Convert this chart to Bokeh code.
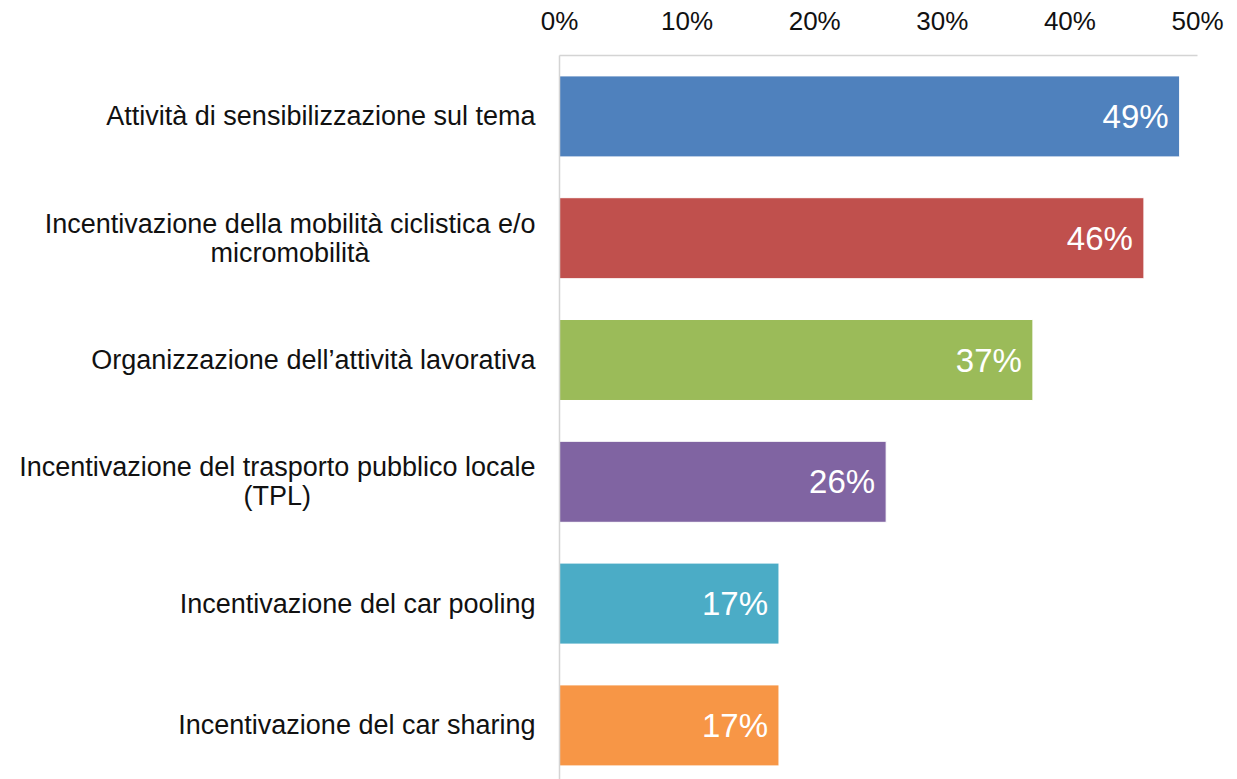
from bokeh.plotting import figure
from bokeh.layouts import row
from bokeh.models import Range1d, FixedTicker, NumeralTickFormatter, ColumnDataSource
from bokeh.core.properties import value
from bokeh.embed import file_html
from bokeh.resources import INLINE

categories = [
    "Attività di sensibilizzazione sul tema",
    "Incentivazione della mobilità ciclistica e/o\nmicromobilità",
    "Organizzazione dell’attività lavorativa",
    "Incentivazione del trasporto pubblico locale\n(TPL)",
    "Incentivazione del car pooling",
    "Incentivazione del car sharing",
]
values = [0.486, 0.458, 0.371, 0.256, 0.172, 0.172]
colors = ["#4F81BD", "#C0504D", "#9BBB59", "#8064A2", "#4BACC6", "#F79646"]
x_ticks = [0, 0.1, 0.2, 0.3, 0.4, 0.5]

n = len(categories)
ypos = [n - 1 - i for i in range(n)]
labels = [f"{round(v * 100)}%" for v in values]

FONT = "Liberation Sans"
LEFT_W = 537
GAP = 22
TOP = 55
HEIGHT = 779
BAND = 121.8
span = (HEIGHT - TOP) / BAND
yr = Range1d(n - 0.5 - span, n - 0.5)

# left panel: category labels
lsrc = ColumnDataSource(dict(y=ypos, t=categories, x=[535] * n))
left = figure(width=LEFT_W, height=HEIGHT, output_backend="svg", toolbar_location=None,
              x_range=Range1d(0, LEFT_W), y_range=yr, x_axis_type=None, y_axis_type=None,
              min_border_left=0, min_border_right=0, min_border_top=TOP, min_border_bottom=0)
left.outline_line_color = None
left.grid.visible = False
left.text(x="x", y="y", text="t", anchor="center_right", text_align="center",
          text_font=value(FONT), text_font_size="27px", text_color="#111111",
          text_line_height=0.97, source=lsrc)

# right panel: bars
src = ColumnDataSource(dict(y=ypos, v=values, c=colors, lab=labels))
p = figure(width=1229 - LEFT_W, height=HEIGHT, output_backend="svg", toolbar_location=None,
           x_axis_location="above", x_range=Range1d(0, 0.5), y_range=yr,
           min_border_left=GAP, min_border_right=32, min_border_top=TOP, min_border_bottom=0)
p.outline_line_color = None
p.grid.visible = False
p.background_fill_color = "white"
p.border_fill_color = "white"

p.hbar(y="y", left=0, right="v", height=0.665, fill_color="c", line_color="white",
       line_width=1, source=src)
p.text(x="v", y="y", text="lab", x_offset=-11, text_align="right", text_baseline="middle",
       text_color="white", text_font=value(FONT), text_font_size="33px", source=src)

xa = p.xaxis[0]
xa.ticker = FixedTicker(ticks=x_ticks)
xa.formatter = NumeralTickFormatter(format="0%")
xa.major_tick_line_color = None
xa.minor_tick_line_color = None
xa.axis_line_color = "#d4d4d4"
xa.axis_line_width = 1.5
xa.major_label_text_font = FONT
xa.major_label_text_font_size = "26px"
xa.major_label_text_color = "#111111"
xa.major_label_standoff = 14

ya = p.yaxis[0]
ya.ticker = FixedTicker(ticks=ypos)
ya.major_label_text_font_size = "0px"
ya.major_label_overrides = {y: "" for y in ypos}
ya.major_label_standoff = 0
ya.major_tick_in = 0
ya.major_tick_out = 0
ya.minor_tick_in = 0
ya.minor_tick_out = 0
ya.major_tick_line_color = None
ya.minor_tick_line_color = None
ya.axis_line_color = "#d4d4d4"
ya.axis_line_width = 1.5

layout = row(left, p, spacing=0)
open("out.html", "w").write(file_html(layout, INLINE))
